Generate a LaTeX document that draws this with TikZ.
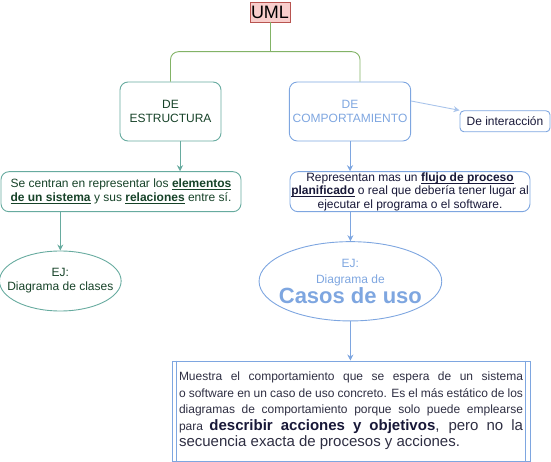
\documentclass[tikz,border=0pt]{standalone}
\usepackage{fontspec}
\setmainfont{Liberation Sans}
\usetikzlibrary{shapes.geometric, arrows.meta, positioning, calc}
\definecolor{umlfill}{RGB}{248,206,204}
\definecolor{umldraw}{RGB}{184,84,80}
\definecolor{linegreen}{RGB}{130,179,102}
\definecolor{tealgreen}{RGB}{103,171,159}
\definecolor{darkgreen}{RGB}{22,66,40}
\definecolor{compblue}{RGB}{126,166,224}
\definecolor{lightblue}{RGB}{169,196,235}
\definecolor{navytext}{RGB}{24,24,56}
\definecolor{greytext}{RGB}{46,46,66}
\newcommand{\ulb}[1]{\leavevmode\setbox0\hbox{\textbf{#1}}\rlap{\vrule height -1.4pt depth 2.2pt width \wd0}\box0\relax}

\begin{document}
\begin{tikzpicture}[x=1pt, y=-1pt, line width=0.9pt,
  estrbox/.style={draw=tealgreen, rounded corners=8pt, align=center, text=darkgreen, font=\fontsize{12}{14}\selectfont},
  compbox/.style={draw=compblue, rounded corners=8pt, align=center, text=compblue, font=\fontsize{12}{14}\selectfont},
  tealarrow/.style={draw=tealgreen, -{Stealth[length=6pt, width=6pt]}},
  bluearrow/.style={draw=compblue, -{Stealth[length=6pt, width=6pt]}},
  lightarrow/.style={draw=lightblue, -{Stealth[length=6pt, width=6pt]}}]
\useasboundingbox (0,0) rectangle (551,462);

\node[draw=umldraw, fill=umlfill, minimum width=40pt, minimum height=20pt, inner sep=0pt, font=\fontsize{18}{20}\selectfont] (uml) at (270,12) {UML};
\coordinate (split) at (270,51.7);

\node[estrbox, minimum width=101pt, minimum height=59pt] (estr) at (170.5,111.5) {DE\\ESTRUCTURA};
\node[compbox, minimum width=120pt, minimum height=59pt] (comp) at (350,111.5) {DE\\COMPORTAMIENTO};
\node[compbox, rounded corners=4pt, text=navytext, minimum width=90pt, minimum height=21pt] (inter) at (505,121.3) {De interacción};

% descripciones
\node[estrbox, align=left, minimum width=240pt, minimum height=40pt, inner sep=2pt, font=\fontsize{12}{14}\selectfont] (estrdesc) at (121,191.7)
  {Se centran en representar los \ulb{elementos}\\\ulb{de un sistema} y sus \ulb{relaciones} entre sí.};
\node[compbox, text=navytext, minimum width=240pt, minimum height=40pt, inner sep=1pt, font=\fontsize{12}{13.2}\selectfont] (compdesc) at (410,191.7)
  {Representan mas un \ulb{flujo de proceso}\\\ulb{planificado} o real que debería tener lugar al\\ejecutar el programa o el software.};

% ejemplos
\node[ellipse, draw=tealgreen, text=darkgreen, minimum width=120pt, minimum height=60pt, inner xsep=-10pt, inner ysep=2pt, align=center, font=\fontsize{12}{14}\selectfont] (clases) at (60.3,281) {EJ:\\Diagrama de clases};
\node[ellipse, draw=compblue, text=compblue, minimum width=182.7pt, minimum height=79.3pt, inner xsep=-8pt, inner ysep=0pt, align=center, font=\fontsize{12}{16}\selectfont] (casos) at (350.4,281.3)
  {EJ:\\Diagrama de\\{\fontsize{22}{22}\selectfont\bfseries Casos de uso}};

\node[draw=compblue, minimum width=358pt, minimum height=100pt, text width=344pt, align=justify, inner sep=0pt, text=greytext, font=\fontsize{12}{16.6}\selectfont] (final) at (351,411)
  {\hyphenpenalty=10000 Muestra el comportamiento que se espera de un sistema\linebreak
  o software en un caso de uso concreto. Es el más estático de los\linebreak
  diagramas de comportamiento porque solo puede emplearse\linebreak
  para {\fontsize{15}{16.6}\selectfont\textcolor{navytext}{\textbf{describir acciones y objetivos}}, pero no la\linebreak
  secuencia exacta de procesos y acciones.}};
\draw[compblue] ([xshift=5pt]final.north west) -- ([xshift=5pt]final.south west);
\draw[compblue] ([xshift=-5pt]final.north east) -- ([xshift=-5pt]final.south east);

% conectores
\draw[linegreen] (uml.south) -- (split);
\draw[linegreen, rounded corners=8pt] (estr.north) |- (split) -| ([xshift=10pt]comp.north);
\draw[lightarrow] ([yshift=10.5pt]comp.east) -- (inter.north west);
\draw[tealarrow] ([xshift=9.5pt]estr.south) -- ([xshift=9.5pt]estr.south |- estrdesc.north);
\draw[tealarrow] (estrdesc.south -| clases.north) -- (clases.north);
\draw[bluearrow] (comp.south) -- (comp.south |- compdesc.north);
\draw[bluearrow] (compdesc.south -| casos.north) -- (casos.north);
\draw[bluearrow] (casos.south) -- (casos.south |- final.north);
\end{tikzpicture}
\end{document}
